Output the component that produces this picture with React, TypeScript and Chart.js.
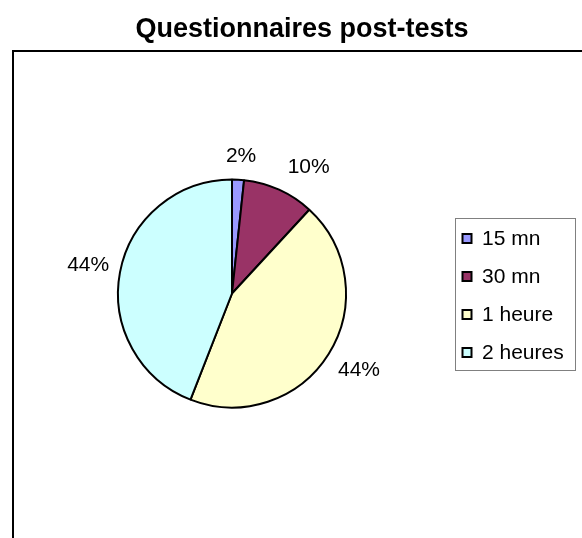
import React, { useEffect, useRef } from "react";
import { Chart, registerables } from "chart.js";

Chart.register(...registerables);

const TITLE = "Questionnaires post-tests";
const CATEGORIES = ["15 mn", "30 mn", "1 heure", "2 heures"];
const COUNTS = [1, 6, 26, 26];
const COLORS = ["#9999FF", "#993366", "#FFFFCC", "#CCFFFF"];

const FONT = '"Liberation Sans", Arial, sans-serif';

export default function App() {
  const ref = useRef<HTMLCanvasElement>(null);

  useEffect(() => {
    const canvas = ref.current!;
    const total = COUNTS.reduce((a, b) => a + b, 0);

    const decor = {
      id: "decor",
      beforeDraw(chart: any) {
        const ctx = chart.ctx;
        ctx.save();
        ctx.fillStyle = "#fff";
        ctx.fillRect(0, 0, chart.width, chart.height);
        ctx.restore();
      },
      afterDraw(chart: any) {
        const ctx = chart.ctx;
        ctx.save();
        // frame
        ctx.strokeStyle = "#000";
        ctx.lineWidth = 2;
        ctx.beginPath();
        ctx.moveTo(13, chart.height + 2);
        ctx.lineTo(13, 51);
        ctx.lineTo(chart.width + 2, 51);
        ctx.stroke();

        // title
        ctx.fillStyle = "#000";
        ctx.font = `bold 27px ${FONT}`;
        ctx.textAlign = "center";
        ctx.textBaseline = "alphabetic";
        ctx.fillText(TITLE, 302, 37);

        // percentage labels
        const meta = chart.getDatasetMeta(0);
        ctx.font = `21px ${FONT}`;
        ctx.textAlign = "center";
        ctx.textBaseline = "middle";
        meta.data.forEach((arc: any, i: number) => {
          const { x, y, startAngle, endAngle, outerRadius } = arc.getProps(
            ["x", "y", "startAngle", "endAngle", "outerRadius"],
            true
          );
          const mid = (startAngle + endAngle) / 2;
          const dx = Math.cos(mid);
          const dy = Math.sin(mid);
          const txt = Math.round((COUNTS[i] / total) * 100) + "%";
          const halfW = ctx.measureText(txt).width / 2;
          const halfH = 10;
          const d = outerRadius + 11;
          const px = x + dx * d;
          const py = y + dy * d;
          const ax = Math.max(-1, Math.min(1, dx * 3));
          const ay = Math.max(-1, Math.min(1, dy * 3));
          ctx.fillText(txt, px + ax * halfW + (ax > 0.9 && ay < -0.9 ? 4 : 0), py + ay * halfH - (ay < -0.9 ? 2 : 0));
        });

        // legend
        ctx.strokeStyle = "#808080";
        ctx.lineWidth = 1;
        ctx.strokeRect(455.5, 218.5, 120, 152);
        ctx.font = `21px ${FONT}`;
        ctx.textAlign = "left";
        ctx.textBaseline = "middle";
        CATEGORIES.forEach((c, i) => {
          const cy = 238.5 + i * 38;
          ctx.fillStyle = COLORS[i];
          ctx.fillRect(462.5, cy - 4.5, 9, 9);
          ctx.strokeStyle = "#000";
          ctx.lineWidth = 2;
          ctx.strokeRect(462.5, cy - 4.5, 9, 9);
          ctx.fillStyle = "#000";
          ctx.fillText(c, 482, cy + 1);
        });
        ctx.restore();
      },
    };

    const chart = new Chart(canvas, {
      type: "pie",
      data: {
        labels: CATEGORIES,
        datasets: [
          {
            data: COUNTS,
            backgroundColor: COLORS,
            borderColor: "#000",
            borderWidth: 2,
            radius: 114,
          } as any,
        ],
      },
      options: {
        responsive: false,
        animation: false,
        events: [],
        layout: { padding: { left: 0, right: 118, top: 49, bottom: 0 } },
        plugins: {
          legend: { display: false },
          title: { display: false },
          tooltip: { enabled: false },
        },
      },
      plugins: [decor],
    });

    return () => chart.destroy();
  }, []);

  return (
    <div style={{ position: "absolute", left: 0, top: 0, width: 582, height: 538 }}>
      <canvas ref={ref} width={582} height={538} style={{ display: "block" }} />
    </div>
  );
}
